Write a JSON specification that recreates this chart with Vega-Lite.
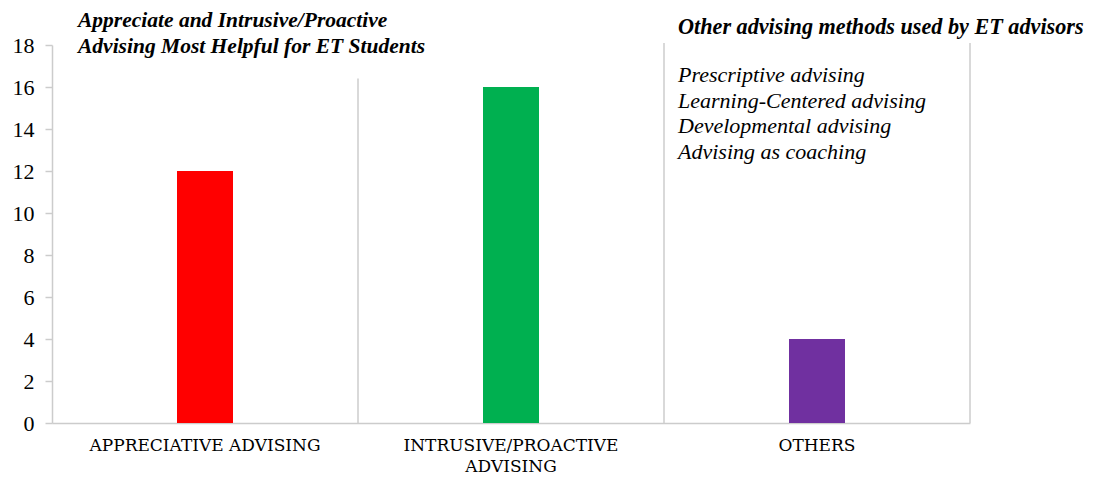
{
  "$schema": "https://vega.github.io/schema/vega-lite/v6.json",
  "width": 918,
  "height": 378,
  "autosize": {"type": "none"},
  "padding": {"left": 52, "top": 45, "right": 135, "bottom": 55},
  "background": "white",
  "config": {"view": {"stroke": null}, "font": "Liberation Serif"},
  "data": {
    "values": [
      {"category": "APPRECIATIVE ADVISING", "count": 12},
      {"category": "INTRUSIVE/PROACTIVE ADVISING", "count": 16},
      {"category": "OTHERS", "count": 4}
    ]
  },
  "layer": [
    {
      "mark": {"type": "bar", "size": 56},
      "encoding": {
        "x": {
          "field": "category",
          "type": "nominal",
          "sort": null,
          "scale": {"paddingInner": 0, "paddingOuter": 0},
          "axis": {
            "title": null,
            "grid": false,
            "ticks": false,
            "domainColor": "#cccccc",
            "domainWidth": 1.5,
            "labelAngle": 0,
            "labelFont": "DejaVu Serif",
            "labelFontSize": 17,
            "labelColor": "#000000",
            "labelPadding": 14,
            "labelLimit": 0,
            "labelBaseline": "top",
            "labelLineHeight": 21,
            "labelExpr": "datum.value == 'INTRUSIVE/PROACTIVE ADVISING' ? ['INTRUSIVE/PROACTIVE', 'ADVISING'] : datum.value"
          }
        },
        "y": {
          "field": "count",
          "type": "quantitative",
          "scale": {"domain": [0, 18], "nice": false},
          "axis": {
            "title": null,
            "grid": false,
            "values": [0, 2, 4, 6, 8, 10, 12, 14, 16, 18],
            "domainColor": "#cccccc",
            "domainWidth": 1.5,
            "tickColor": "#cccccc",
            "tickWidth": 1.5,
            "tickSize": 7,
            "labelFont": "Liberation Serif",
            "labelFontSize": 22,
            "labelColor": "#000000",
            "labelPadding": 11
          }
        },
        "color": {
          "field": "category",
          "type": "nominal",
          "scale": {
            "domain": ["APPRECIATIVE ADVISING", "INTRUSIVE/PROACTIVE ADVISING", "OTHERS"],
            "range": ["#ff0000", "#00b050", "#7030a0"]
          },
          "legend": null
        }
      }
    },
    {
      "data": {"values": [{}]},
      "mark": {"type": "rule", "color": "#cccccc", "strokeWidth": 1.5},
      "encoding": {
        "x": {"datum": "INTRUSIVE/PROACTIVE ADVISING", "type": "nominal", "bandPosition": 0},
        "y": {"datum": 16.4, "type": "quantitative"},
        "y2": {"datum": 0}
      }
    },
    {
      "data": {"values": [{}]},
      "mark": {"type": "rule", "color": "#cccccc", "strokeWidth": 1.5},
      "encoding": {
        "x": {"datum": "OTHERS", "type": "nominal", "bandPosition": 0},
        "y": {"datum": 18.1, "type": "quantitative"},
        "y2": {"datum": 0}
      }
    },
    {
      "data": {"values": [{}]},
      "mark": {"type": "rule", "color": "#cccccc", "strokeWidth": 1.5},
      "encoding": {
        "x": {"datum": "OTHERS", "type": "nominal", "bandPosition": 1},
        "y": {"datum": 18.1, "type": "quantitative"},
        "y2": {"datum": 0}
      }
    },
    {
      "data": {"values": [{}]},
      "mark": {
        "type": "text",
        "align": "left",
        "baseline": "alphabetic",
        "dx": 26,
        "dy": -18,
        "font": "Liberation Serif",
        "fontSize": 21.5,
        "fontStyle": "italic",
        "fontWeight": "bold",
        "lineHeight": 26,
        "color": "#000000"
      },
      "encoding": {
        "x": {"datum": "APPRECIATIVE ADVISING", "type": "nominal", "bandPosition": 0},
        "y": {"datum": 18, "type": "quantitative"},
        "text": {"value": ["Appreciate and Intrusive/Proactive", "Advising Most Helpful for ET Students"]}
      }
    },
    {
      "data": {"values": [{}]},
      "mark": {
        "type": "text",
        "align": "left",
        "baseline": "alphabetic",
        "dx": 14,
        "dy": -11,
        "font": "Liberation Serif",
        "fontSize": 22.2,
        "fontStyle": "italic",
        "fontWeight": "bold",
        "color": "#000000"
      },
      "encoding": {
        "x": {"datum": "OTHERS", "type": "nominal", "bandPosition": 0},
        "y": {"datum": 18, "type": "quantitative"},
        "text": {"value": "Other advising methods used by ET advisors"}
      }
    },
    {
      "data": {"values": [{}]},
      "mark": {
        "type": "text",
        "align": "left",
        "baseline": "alphabetic",
        "dx": 14,
        "dy": 37,
        "font": "Liberation Serif",
        "fontSize": 22,
        "fontStyle": "italic",
        "lineHeight": 25.5,
        "color": "#000000"
      },
      "encoding": {
        "x": {"datum": "OTHERS", "type": "nominal", "bandPosition": 0},
        "y": {"datum": 18, "type": "quantitative"},
        "text": {"value": ["Prescriptive advising", "Learning-Centered advising", "Developmental advising", "Advising as coaching"]}
      }
    }
  ]
}
